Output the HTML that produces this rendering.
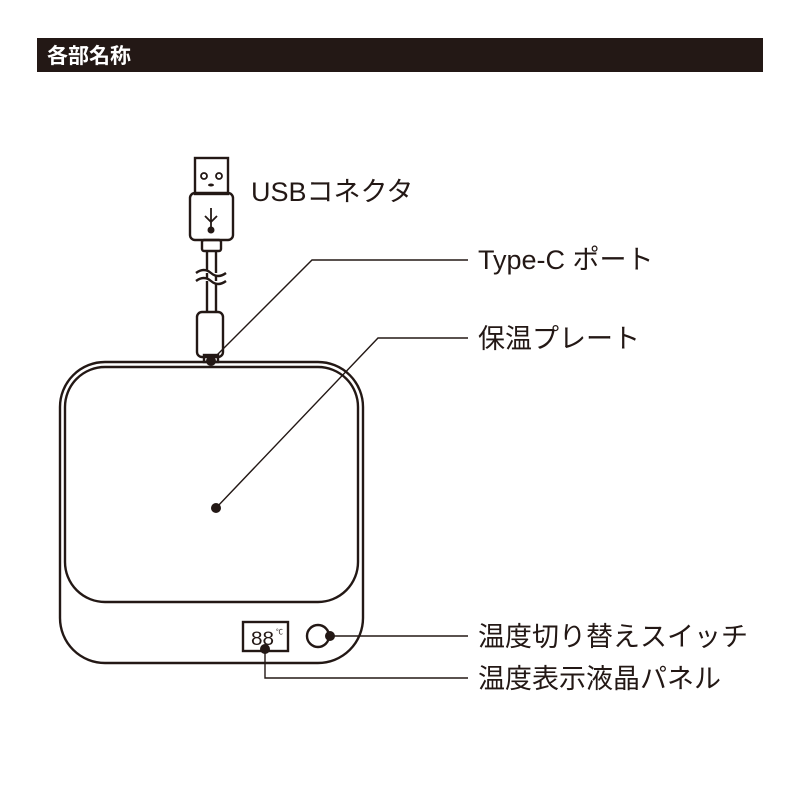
<!DOCTYPE html>
<html><head><meta charset="utf-8"><style>
body{margin:0;background:#fff;}
svg{display:block}
text{font-family:"Liberation Sans","Noto Sans CJK JP",sans-serif;fill:#231815}
</style></head><body>
<svg width="800" height="800" viewBox="0 0 800 800" xmlns="http://www.w3.org/2000/svg">
<rect x="37" y="38" width="726" height="34" fill="#231815"/>
<text x="47" y="63" font-size="21" font-weight="bold" style="fill:#fff">各部名称</text>
<g fill="none" stroke="#231815" stroke-width="2.4">
<rect x="60" y="362" width="303" height="301" rx="45"/>
<rect x="65" y="367" width="293" height="235" rx="40"/>
<rect x="243" y="622" width="45" height="29"/>
<circle cx="318" cy="636" r="11"/>
<rect x="195" y="158" width="33" height="36"/>
<rect x="190" y="193" width="43" height="47" rx="5"/>
<rect x="202" y="240" width="19" height="11" rx="2"/>
<line x1="207" y1="251" x2="207" y2="312"/>
<line x1="216" y1="251" x2="216" y2="312"/>
<path d="M196 273 q8 -6 15 0 t15 0" fill="#fff"/>
<path d="M196 281 q8 -6 15 0 t15 0" fill="#fff"/>
<rect x="197" y="312" width="26" height="45" rx="5"/>
<rect x="204" y="355" width="14" height="7"/>
<polyline points="211,361 312,260 468,260" stroke-width="1.4"/>
<polyline points="216,508 378,338 468,338" stroke-width="1.4"/>
<line x1="330" y1="636" x2="468" y2="636" stroke-width="1.4"/>
<polyline points="265,649 265,678 468,678" stroke-width="1.4"/>
</g>
<g fill="#231815">
<circle cx="204" cy="176" r="3" fill="none" stroke="#231815" stroke-width="1.8"/>
<circle cx="219" cy="176" r="3" fill="none" stroke="#231815" stroke-width="1.8"/>
<ellipse cx="211" cy="185" rx="3" ry="1.5"/>
<circle cx="211" cy="230" r="3.5"/>
<line x1="211" y1="208" x2="211" y2="228" stroke="#231815" stroke-width="1.8"/>
<path d="M205 216 l6 6 l6 -6" fill="none" stroke="#231815" stroke-width="1.8"/>
<circle cx="211" cy="361" r="5"/>
<circle cx="216" cy="508" r="5"/>
<circle cx="330" cy="636" r="5"/>
<circle cx="265" cy="649" r="5"/>
</g>
<text x="251" y="645" font-size="19" font-family="Liberation Mono" textLength="23" lengthAdjust="spacingAndGlyphs">88</text>
<text x="276" y="634" font-size="7">℃</text>
<text x="251" y="201" font-size="27">USBコネクタ</text>
<text x="478" y="269" font-size="27">Type-C ポート</text>
<text x="478" y="348" font-size="27">保温プレート</text>
<text x="478" y="646" font-size="27">温度切り替えスイッチ</text>
<text x="478" y="688" font-size="27">温度表示液晶パネル</text>
</svg>
</body></html>
